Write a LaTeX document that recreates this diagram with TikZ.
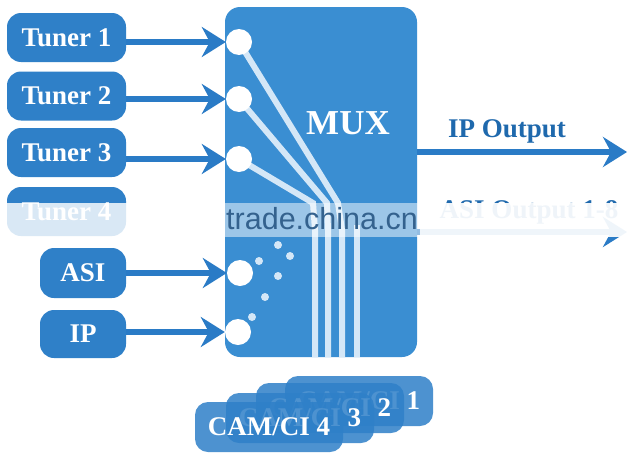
\documentclass[tikz,border=0pt]{standalone}
\usepackage{fontspec}
\setmainfont{Liberation Serif}
\newfontfamily\wmfont{Liberation Sans}
\usetikzlibrary{arrows.meta}
\definecolor{boxblue}{HTML}{2F80C8}
\definecolor{muxblue}{HTML}{3A8ED2}
\definecolor{arrblue}{HTML}{2A7BC6}
\definecolor{txtblue}{HTML}{1F69AD}
\definecolor{fanline}{HTML}{D4E7F7}
\definecolor{wmtext}{HTML}{34628E}
\tikzset{
  tbox/.style={fill=boxblue, rounded corners=14pt, inner sep=0pt, text=white,
     font=\fontsize{27}{27}\selectfont\bfseries},
  cambox/.style={fill=boxblue, fill opacity=0.85, text opacity=1, rounded corners=13pt,
     inner sep=0pt, minimum width=148pt, minimum height=50pt, text=white,
     font=\fontsize{27}{27}\selectfont\bfseries},
  port/.style={circle, fill=white, minimum size=26pt, inner sep=0pt},
  dotc/.style={circle, fill=fanline, minimum size=8pt, inner sep=0pt},
  arr/.style={draw=arrblue, line width=6pt, -{Stealth[length=24pt, width=30pt, inset=8pt]}},
  fan/.style={draw=fanline, line width=6pt},
}
\begin{document}
\begin{tikzpicture}[x=1pt, y=-1pt]
\useasboundingbox (0,0) rectangle (644,463);
\fill[white] (0,0) rectangle (644,463);

% MUX block
\node[fill=muxblue, rounded corners=15pt, minimum width=192pt, minimum height=350pt, inner sep=0pt] (mux) at (321,182) {};

% fan lines
\coordinate (f1) at (338,203); \coordinate (g1) at (342,230); \coordinate (h1) at (342,357);
\coordinate (f2) at (327,203); \coordinate (g2) at (328,230); \coordinate (h2) at (328,357);
\coordinate (f3) at (313,203); \coordinate (g3) at (315,230); \coordinate (h3) at (315,357);
\coordinate (g4) at (357,225); \coordinate (h4) at (357,357);
\coordinate (c1p) at (239,42);
\coordinate (c2p) at (239,99);
\coordinate (c3p) at (239,159);
\draw[fan] (c1p) -- (f1) -- (g1) -- (h1);
\draw[fan] (c2p) -- (f2) -- (g2) -- (h2);
\draw[fan] (c3p) -- (f3) -- (g3) -- (h3);
\draw[fan] (g4) -- (h4);

% dots
\node[dotc] (d1) at (278,245) {};
\node[dotc] (d2) at (290,256) {};
\node[dotc] (d3) at (259,261) {};
\node[dotc] (d4) at (278,276) {};
\node[dotc] (d5) at (265,297) {};
\node[dotc] (d6) at (252,317) {};

% ports
\node[port] (c1) at (c1p) {};
\node[port] (c2) at (c2p) {};
\node[port] (c3) at (c3p) {};
\node[port] (ca) at (240,273) {};
\node[port] (ci) at (238,332) {};

\node[text=white, font=\fontsize{35}{35}\selectfont\bfseries] (muxt) at (348,123) {MUX};

% inputs
\node[tbox, minimum width=119pt, minimum height=49pt] (t1) at (66.5,37.5) {Tuner 1};
\node[tbox, minimum width=119pt, minimum height=49pt] (t2) at (66.5,96) {Tuner 2};
\node[tbox, minimum width=119pt, minimum height=49pt] (t3) at (66.5,152.5) {Tuner 3};
\node[tbox, minimum width=119pt, minimum height=49pt] (t4) at (66.5,211.5) {Tuner 4};
\node[tbox, minimum width=86pt, minimum height=50pt] (asi) at (83,273) {ASI};
\node[tbox, minimum width=86pt, minimum height=48pt] (ip) at (83,334) {IP};

\draw[arr] (t1.east |- c1) -- (c1.west);
\draw[arr] (t2.east |- c2) -- (c2.west);
\draw[arr] (t3.east |- c3) -- (c3.west);
\draw[arr] (asi.east |- ca) -- (ca.west);
\draw[arr] (ip.east |- ci) -- (ci.west);

% outputs
\coordinate (o1s) at (mux.east |- 0,152);
\coordinate (o1e) at (627,152);
\draw[arr] (o1s) -- (o1e);
\node[text=txtblue, font=\fontsize{27}{27}\selectfont\bfseries] (ipo) at (507,131) {IP Output};
\coordinate (o2s) at (mux.east |- 0,232);
\coordinate (o2e) at (627,232);
\draw[arr] (o2s) -- (o2e);
\node[text=txtblue, font=\fontsize{27}{27}\selectfont\bfseries] (asio) at (529,212) {ASI Output 1-8};

% CAM/CI stack
\node[cambox] (cam1) at (359,401) {CAM/CI 1};
\node[cambox] (cam2) at (330,408) {CAM/CI 2};
\node[cambox] (cam3) at (300,418) {CAM/CI 3};
\node[cambox] (cam4) at (269,427) {CAM/CI 4};

% watermark band
\fill[white, opacity=0.82] (0,203) rectangle (225,237);
\fill[white, opacity=0.5] (225,203) rectangle (420,237);
\fill[white, opacity=0.93] (420,203) rectangle (644,237);
\node[text=wmtext, font=\wmfont\fontsize{30.5}{30.5}\selectfont] (wm) at (322,219) {trade.china.cn};
\end{tikzpicture}
\end{document}
